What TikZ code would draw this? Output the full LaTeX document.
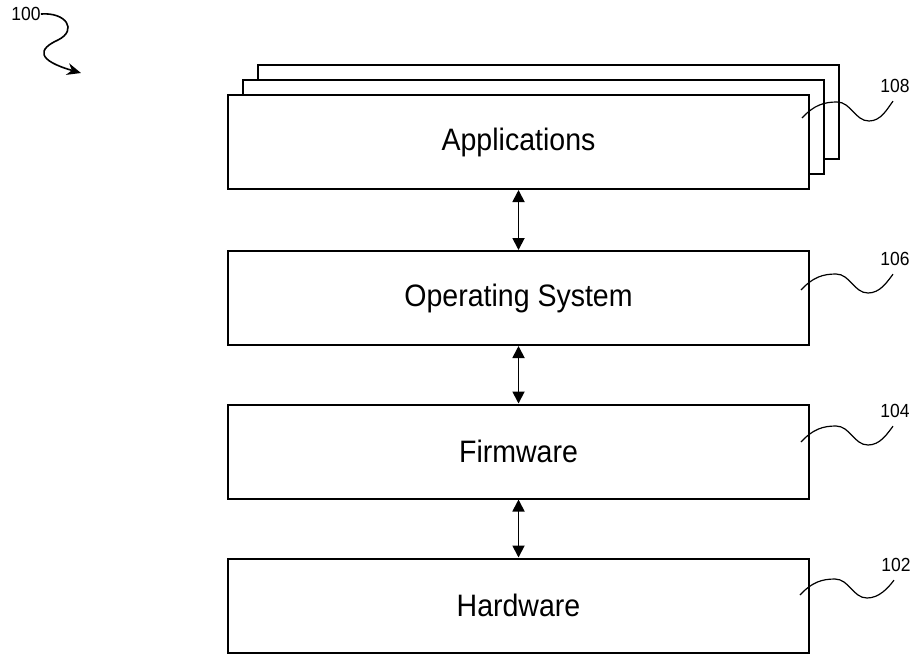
\documentclass[tikz,border=0pt]{standalone}
\usepackage{fontspec}
\setmainfont{Liberation Sans}[FakeStretch=0.92]
\usetikzlibrary{arrows.meta,calc}

\tikzset{
  layer/.style={draw=black, line width=1pt, fill=white, rectangle,
    minimum width=290.5pt, minimum height=47pt, inner sep=0pt,
    font=\fontsize{15.5}{18}\selectfont},
  refnum/.style={inner sep=0pt, font=\fontsize{9.5}{11}\selectfont},
  lead/.style={draw=black, line width=0.6pt},
  link/.style={draw=black, line width=0.9pt,
    {Triangle[length=6pt,width=6pt]}-{Triangle[length=6pt,width=6pt]}}
}

% wavy leader from a point on a layer to its reference numeral
\newcommand\leadwave[2]{%
  \draw[lead] (#1) .. controls +(12,-13) and +(-13,0) .. ++(35,-16)
    .. controls +(14,0) and +(-14,0) .. ++(32,19)
    .. controls +(12,0) and +(-6,8) .. ($(#2.south)+(-2,8)$);}

\begin{document}
\begin{tikzpicture}[x=0.5pt,y=-0.5pt]
\useasboundingbox (0,0) rectangle (914,655);

% stacked application sheets
\node[layer] (app3) at (548.5,112) {};
\node[layer] (app2) at (533.5,127) {};
\node[layer] (app)  at (518.5,142) {Applications};

\node[layer] (os) at (518.5,298)   {Operating System};
\node[layer] (fw) at (518.5,451.5) {Firmware};
\node[layer] (hw) at (518.5,605.5) {Hardware};

% two-way links between layers
\draw[link] (app.south) -- (os.north);
\draw[link] (os.south)  -- (fw.north);
\draw[link] (fw.south)  -- (hw.north);

% reference numerals
\node[refnum] (l108) at (895,86)  {108};
\node[refnum] (l106) at (895,259) {106};
\node[refnum] (l104) at (895,411) {104};
\node[refnum] (l102) at (896,565) {102};

\coordinate (s108) at (802,118);
\coordinate (s106) at (801,290);
\coordinate (s104) at (801,442);
\coordinate (s102) at (800,595);

\leadwave{s108}{l108}
\leadwave{s106}{l106}
\leadwave{s104}{l104}
\leadwave{s102}{l102}

% overall figure numeral with its curved arrow
\node[refnum] (l100) at (26,14) {100};
\coordinate (t100) at (81,73);
\draw[lead, line width=0.8pt, -{Stealth[length=7pt,width=6pt]}]
  (l100.east) .. controls (66,12) and (78,30) .. (58,40)
  .. controls (38,49) and (36,60) .. (t100);
\end{tikzpicture}
\end{document}
